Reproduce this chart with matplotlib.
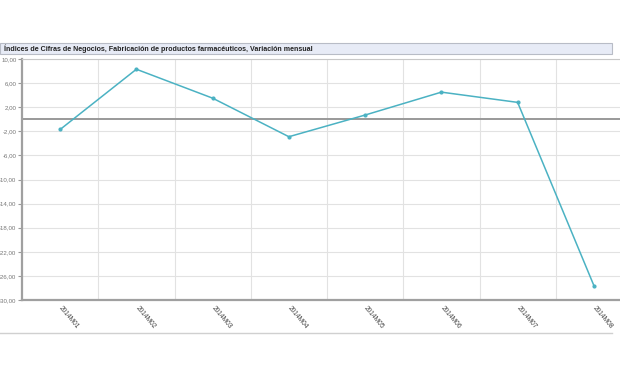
import matplotlib.pyplot as plt
from matplotlib.patches import Rectangle
from matplotlib.lines import Line2D
from matplotlib.ticker import FuncFormatter

# Datos: variación mensual (%)
meses = ["2014M01", "2014M02", "2014M03", "2014M04",
         "2014M05", "2014M06", "2014M07", "2014M08"]
variacion = [-1.7, 8.3, 3.5, -2.9, 0.7, 4.5, 2.8, -27.6]
y_ticks = [10, 6, 2, -2, -6, -10, -14, -18, -22, -26, -30]
titulo = ("Índices de Cifras de Negocios, Fabricación de productos "
          "farmacéuticos, Variación mensual")

plt.rcParams['font.family'] = ['Liberation Sans', 'DejaVu Sans']

W, H = 620, 368
fig = plt.figure(figsize=(W / 100, H / 100), dpi=100)
fig.patch.set_facecolor("white")

# Title bar
fig.patches.append(Rectangle((0, 1 - 54 / H), 612 / W, 11 / H,
                             transform=fig.transFigure, facecolor="#e7ebf6",
                             edgecolor="#b8bcc6", linewidth=0.8))
fig.text(4 / W, 1 - 48.5 / H, titulo, fontsize=5.1, fontweight="bold",
         color="#222222", va="center", ha="left")

# Plot area (cropped on the right like the original)
left, right, top, bottom = 22, 632, 59, 300
ax = fig.add_axes([left / W, 1 - bottom / H, (right - left) / W, (bottom - top) / H])

x = list(range(len(meses)))
ax.plot(x, variacion, color="#4bb2c3", linewidth=1.1, marker="o",
        markersize=2, zorder=3)

ax.set_xlim(-0.5, len(meses) - 0.5)
ax.set_ylim(-30, 10)
ax.set_yticks(y_ticks)
ax.yaxis.set_major_formatter(FuncFormatter(lambda v, p: f"{v:.2f}".replace(".", ",")))
ax.set_xticks(x)
ax.set_xticklabels(meses, rotation=-50, ha="left", va="center",
                   rotation_mode="anchor", fontsize=4.8, color="#444444")
ax.set_xticks([i + 0.5 for i in x[:-1]], minor=True)

ax.tick_params(axis="y", labelsize=4.4, labelcolor="#777777", length=3,
               color="#999999", width=0.8, pad=1)
ax.tick_params(axis="x", which="major", length=0, pad=5)
ax.tick_params(axis="x", which="minor", length=0)

ax.grid(axis="y", color="#e2e2e2", linewidth=0.8)
ax.grid(axis="x", which="minor", color="#e2e2e2", linewidth=0.8)
ax.set_axisbelow(True)
ax.axhline(0, color="#999999", linewidth=1.4, zorder=2)

for s in ["left", "bottom"]:
    ax.spines[s].set_color("#a0a0a0")
    ax.spines[s].set_linewidth(1.6)
ax.spines["top"].set_color("#c8c8c8")
ax.spines["top"].set_linewidth(0.8)
ax.spines["right"].set_visible(False)

# bottom separator line
fig.lines.append(Line2D([0, 612 / W], [1 - 333 / H, 1 - 333 / H],
                        transform=fig.transFigure, color="#d0d0d0", linewidth=1))

fig.savefig("out.png", dpi=100)
